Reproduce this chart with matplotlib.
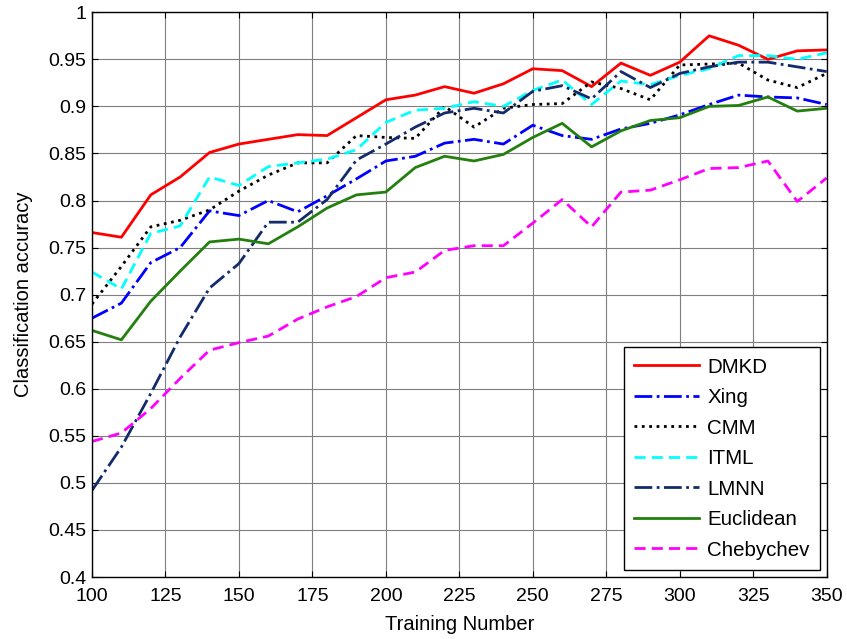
import numpy as np
import matplotlib
matplotlib.use('Agg')
import matplotlib.pyplot as plt

plt.rcParams['font.family'] = ['Liberation Sans', 'DejaVu Sans']

train_num = list(range(100, 351, 10))

dmkd = [0.766, 0.761, 0.806, 0.825, 0.851, 0.860, 0.865, 0.870, 0.869, 0.888,
        0.907, 0.912, 0.921, 0.914, 0.924, 0.940, 0.938, 0.921, 0.946, 0.933,
        0.947, 0.975, 0.965, 0.950, 0.959, 0.960]
xing = [0.675, 0.691, 0.734, 0.750, 0.789, 0.784, 0.800, 0.788, 0.805, 0.823,
        0.842, 0.847, 0.861, 0.865, 0.860, 0.880, 0.869, 0.865, 0.876, 0.882,
        0.891, 0.902, 0.912, 0.910, 0.909, 0.902]
cmm = [0.690, 0.730, 0.772, 0.779, 0.790, 0.810, 0.827, 0.840, 0.840, 0.869,
       0.867, 0.866, 0.900, 0.878, 0.898, 0.902, 0.903, 0.926, 0.919, 0.907,
       0.944, 0.945, 0.946, 0.928, 0.920, 0.935]
itml = [0.724, 0.706, 0.765, 0.773, 0.825, 0.816, 0.836, 0.840, 0.844, 0.854,
        0.883, 0.896, 0.898, 0.905, 0.900, 0.917, 0.928, 0.902, 0.927, 0.923,
        0.933, 0.940, 0.954, 0.954, 0.950, 0.957]
lmnn = [0.492, 0.538, 0.595, 0.655, 0.707, 0.733, 0.777, 0.777, 0.801, 0.843,
        0.860, 0.878, 0.893, 0.898, 0.893, 0.916, 0.922, 0.908, 0.937, 0.920,
        0.935, 0.942, 0.947, 0.947, 0.942, 0.937]
euclid = [0.662, 0.652, 0.693, 0.725, 0.756, 0.759, 0.754, 0.772, 0.792, 0.806,
          0.809, 0.835, 0.847, 0.842, 0.849, 0.867, 0.882, 0.857, 0.874, 0.885,
          0.888, 0.900, 0.901, 0.910, 0.895, 0.898]
cheby = [0.544, 0.553, 0.579, 0.611, 0.641, 0.649, 0.656, 0.674, 0.687, 0.698,
         0.718, 0.724, 0.747, 0.752, 0.752, 0.776, 0.801, 0.772, 0.809, 0.811,
         0.822, 0.834, 0.835, 0.842, 0.799, 0.824]

fig = plt.figure(figsize=(8.47, 6.39), dpi=100)
ax = fig.add_axes([0.1086, 0.097, 0.8674, 0.8838])

lw = 2.0
ax.plot(train_num, dmkd, '-', color='#FF0000', lw=lw, label='DMKD')
ax.plot(train_num, xing, '-.', color='#0000FF', lw=lw, label='Xing')
ax.plot(train_num, cmm, ':', color='#000000', lw=lw, label='CMM')
ax.plot(train_num, itml, '--', color='#00FFFF', lw=lw, label='ITML', dashes=(4, 2.2))
ax.plot(train_num, lmnn, '-.', color='#132B6B', lw=lw, label='LMNN')
ax.plot(train_num, euclid, '-', color='#23800F', lw=lw, label='Euclidean')
ax.plot(train_num, cheby, '--', color='#FF00FF', lw=lw, label='Chebychev', dashes=(4, 2.2))

ax.set_xlim(100, 350)
ax.set_ylim(0.4, 1.0)
ax.set_xticks(np.arange(100, 351, 25))
ax.set_yticks(np.arange(0.4, 1.001, 0.05))
ax.set_yticklabels(['0.4', '0.45', '0.5', '0.55', '0.6', '0.65', '0.7', '0.75',
                    '0.8', '0.85', '0.9', '0.95', '1'])
ax.grid(True, color='#7f7f7f', lw=0.8, ls='-')
ax.tick_params(direction='in', top=True, right=True, labelsize=14, length=4)
ax.tick_params(axis='x', pad=8)
ax.tick_params(axis='y', pad=4)
for s in ax.spines.values():
    s.set_linewidth(1.0)

ax.set_xlabel('Training Number', fontsize=14.5, labelpad=7)
ax.set_ylabel('Classification accuracy', fontsize=14.5, labelpad=11)

leg = ax.legend(loc='lower right', bbox_to_anchor=(0.991, 0.0126), fontsize=14.8,
                handlelength=3.15, handletextpad=0.4, fancybox=False, framealpha=1,
                edgecolor='black', labelspacing=0.56, borderpad=0.5,
                borderaxespad=0)
leg.get_frame().set_linewidth(1.0)

fig.savefig('out.png', dpi=100)
